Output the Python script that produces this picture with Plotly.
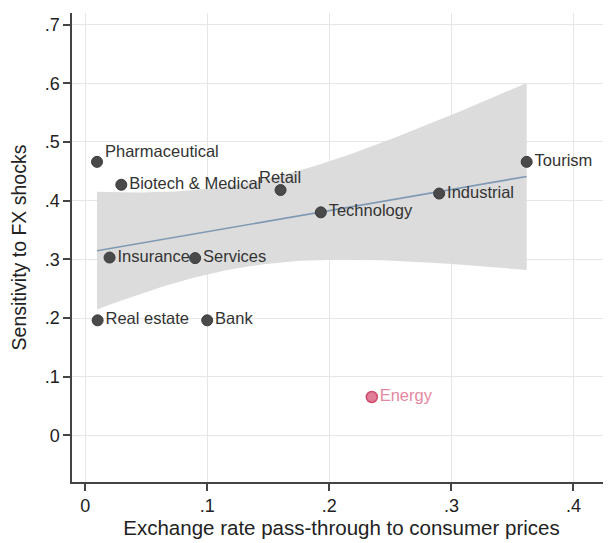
import numpy as np
import plotly.graph_objects as go

sectors = ["Pharmaceutical", "Biotech & Medical", "Retail", "Technology", "Insurance",
           "Services", "Real estate", "Bank", "Industrial", "Tourism"]
passthrough = [0.0096, 0.0295, 0.160, 0.193, 0.0199, 0.090, 0.0101, 0.0999, 0.290, 0.3617]
sensitivity = [0.466, 0.427, 0.418, 0.380, 0.303, 0.302, 0.196, 0.196, 0.412, 0.466]
above_labels = ["Pharmaceutical", "Retail"]

outlier_name = ["Energy"]
outlier_x = [0.2348]
outlier_y = [0.0654]

x_ticks = [0, 0.1, 0.2, 0.3, 0.4]
x_ticklabels = ["0", ".1", ".2", ".3", ".4"]
y_ticks = [0, 0.1, 0.2, 0.3, 0.4, 0.5, 0.6, 0.7]
y_ticklabels = ["0", ".1", ".2", ".3", ".4", ".5", ".6", ".7"]

T_CRIT = 2.306  # t(0.975, df=8)

# Linear fit with 95% CI (Energy excluded)
x = np.array(passthrough)
y = np.array(sensitivity)
n = len(x)
b1, b0 = np.polyfit(x, y, 1)
resid = y - (b0 + b1 * x)
s = np.sqrt(np.sum(resid ** 2) / (n - 2))
sxx = np.sum((x - x.mean()) ** 2)
xg = np.linspace(x.min(), x.max(), 100)
yg = b0 + b1 * xg
hw = T_CRIT * s * np.sqrt(1 / n + (xg - x.mean()) ** 2 / sxx)

FONT = "Arial, Liberation Sans, sans-serif"
LBL = dict(family=FONT, size=16.5, color="#333333")

fig = go.Figure()
fig.add_trace(go.Scatter(
    x=np.concatenate([xg, xg[::-1]]), y=np.concatenate([yg + hw, (yg - hw)[::-1]]),
    fill="toself", fillcolor="rgba(218,218,218,0.95)", line=dict(width=0),
    mode="lines", hoverinfo="skip", showlegend=False))
fig.add_trace(go.Scatter(x=xg, y=yg, mode="lines", line=dict(color="#8099b3", width=1.6),
                         showlegend=False))
fig.add_trace(go.Scatter(
    x=passthrough, y=sensitivity,
    text=["" if s_ in above_labels else s_ for s_ in sectors],
    mode="markers+text", textposition="middle right",
    marker=dict(size=11, color="#4a4a4a", line=dict(color="#3a3a3a", width=1)),
    textfont=LBL, showlegend=False))
fig.add_trace(go.Scatter(
    x=outlier_x, y=outlier_y, text=outlier_name, mode="markers+text",
    textposition="middle right",
    marker=dict(size=11, color="#e07d97", line=dict(color="#d04a6e", width=1.5)),
    textfont=dict(family=FONT, size=16.5, color="#e6889f"), showlegend=False))

for name, xv, yv in zip(sectors, passthrough, sensitivity):
    if name == "Pharmaceutical":
        fig.add_annotation(x=xv, y=yv, text=name, showarrow=False, font=LBL,
                           xanchor="left", yanchor="middle", xshift=6, yshift=11)
    elif name == "Retail":
        fig.add_annotation(x=xv, y=yv, text=name, showarrow=False, font=LBL,
                           xanchor="center", yanchor="middle", xshift=-1, yshift=13)

fig.update_layout(
    width=603, height=535,
    margin=dict(l=64, r=0, t=5, b=61),
    paper_bgcolor="white", plot_bgcolor="white",
    font=dict(family=FONT, color="#222222"),
    xaxis=dict(range=[-0.0109, 0.4308], tickvals=x_ticks, ticktext=x_ticklabels,
               showgrid=True, gridcolor="#e6e6e6", gridwidth=1.2, zeroline=False,
               showline=True, linecolor="#444444", linewidth=1.5,
               ticks="outside", ticklen=7, tickcolor="#444444", tickwidth=1.5,
               tickfont=dict(size=18, family=FONT, color="#222222"),
               title=dict(text="Exchange rate pass-through to consumer prices",
                          font=dict(size=20.5, family=FONT, color="#222222"), standoff=4)),
    yaxis=dict(range=[-0.0794, 0.7196], tickvals=y_ticks, ticktext=y_ticklabels,
               showgrid=True, gridcolor="#e6e6e6", gridwidth=1.2, zeroline=False,
               showline=True, linecolor="#444444", linewidth=1.5,
               ticks="outside", ticklen=7, tickcolor="#444444", tickwidth=1.5,
               tickfont=dict(size=18, family=FONT, color="#222222"),
               title=dict(text="Sensitivity to FX shocks",
                          font=dict(size=19.5, family=FONT, color="#222222"), standoff=14)),
)

fig.write_html("out.html")
